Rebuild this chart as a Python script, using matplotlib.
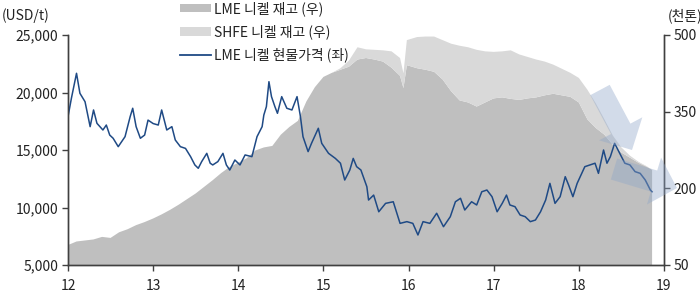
import matplotlib.pyplot as plt
from matplotlib.patches import FancyArrow, Patch
from matplotlib.lines import Line2D

plt.rcParams['font.family'] = ['Noto Sans CJK KR', 'DejaVu Sans']

# LME nickel cash price (USD/t), year axis: 12 = 2012
price_years = [12.00, 12.04, 12.10, 12.14, 12.20, 12.26, 12.30, 12.34, 12.41, 12.45,
               12.49, 12.53, 12.59, 12.67, 12.73, 12.76, 12.80, 12.85, 12.90, 12.94,
               13.00, 13.06, 13.10, 13.16, 13.22, 13.26, 13.32, 13.38, 13.44, 13.49,
               13.53, 13.57, 13.63, 13.67, 13.70, 13.76, 13.82, 13.86, 13.90, 13.96,
               14.02, 14.08, 14.16, 14.22, 14.28, 14.30, 14.33, 14.36, 14.39, 14.43,
               14.46, 14.51, 14.57, 14.63, 14.69, 14.73, 14.76, 14.82, 14.86, 14.94,
               14.98, 15.06, 15.14, 15.20, 15.25, 15.31, 15.35, 15.39, 15.44, 15.51,
               15.53, 15.59, 15.65, 15.73, 15.82, 15.90, 15.98, 16.05, 16.11, 16.17,
               16.25, 16.33, 16.41, 16.49, 16.55, 16.61, 16.66, 16.74, 16.80, 16.86,
               16.92, 16.98, 17.04, 17.10, 17.15, 17.19, 17.25, 17.31, 17.37, 17.43,
               17.49, 17.55, 17.61, 17.66, 17.72, 17.78, 17.84, 17.88, 17.93, 17.98,
               18.07, 18.13, 18.19, 18.23, 18.29, 18.33, 18.37, 18.42, 18.48, 18.54,
               18.60, 18.66, 18.72, 18.78, 18.84, 18.86]
prices = [17900, 19500, 21670, 19930, 19200, 17030, 18480, 17320, 16740, 17170,
          16300, 16020, 15290, 16160, 17900, 18630, 17030, 16020, 16300, 17600,
          17300, 17170, 18480, 16740, 17030, 15870, 15290, 15140, 14420, 13700,
          13410, 13990, 14710, 13850, 13700, 13990, 14710, 13700, 13260, 14130,
          13700, 14570, 14420, 16160, 17030, 18040, 18770, 20940, 19640, 18770,
          18190, 19640, 18630, 18480, 19640, 17900, 16160, 14860, 15580, 16890,
          15580, 14710, 14270, 13850, 12390, 13260, 14270, 13550, 13260, 11810,
          10650, 11080, 9630, 10360, 10500, 8620, 8770, 8620, 7610, 8770,
          8620, 9500, 8330, 9200, 10500, 10800, 9780, 10500, 10220, 11370,
          11520, 10940, 9630, 10360, 11080, 10220, 10070, 9350, 9200, 8770,
          8910, 9630, 10650, 12100, 10360, 10940, 12680, 11950, 10940, 12100,
          13550, 13700, 13850, 12970, 15000, 13850, 14420, 15580, 14710, 13850,
          13700, 13120, 12970, 12390, 11520, 11370]

# stocks (thousand tonnes)
stock_years = [12.0, 12.1, 12.2, 12.3, 12.4, 12.5, 12.6, 12.7, 12.8, 12.9,
               13.0, 13.1, 13.2, 13.3, 13.4, 13.5, 13.6, 13.7, 13.8, 13.9,
               14.0, 14.1, 14.2, 14.3, 14.4, 14.5, 14.6, 14.7, 14.8, 14.9,
               15.0, 15.1, 15.2, 15.3, 15.4, 15.5, 15.6, 15.7, 15.8, 15.9,
               15.94, 15.98, 16.1, 16.2, 16.3, 16.4, 16.5, 16.6, 16.7, 16.8,
               16.9, 17.0, 17.1, 17.2, 17.3, 17.4, 17.5, 17.6, 17.7, 17.8,
               17.9, 18.0, 18.1, 18.2, 18.3, 18.4, 18.5, 18.6, 18.7, 18.8, 18.86]
lme_stock = [89, 96, 98, 100, 105, 103, 114, 120, 128, 134,
             141, 149, 158, 168, 179, 190, 203, 216, 230, 242,
             250, 259, 274, 280, 283, 305, 320, 332, 370, 398,
             418, 426, 432, 438, 452, 455, 452, 448, 436, 420,
             396, 441, 435, 432, 428, 413, 390, 372, 368, 360,
             368, 376, 378, 375, 373, 376, 378, 382, 385, 382,
             379, 368, 335, 318, 305, 285, 270, 260, 250, 242, 236]
shfe_stock = [0, 0, 0, 0, 0, 0, 0, 0, 0, 0,
              0, 0, 0, 0, 0, 0, 0, 0, 0, 0,
              0, 0, 0, 0, 0, 0, 0, 0, 0, 0,
              0, 0, 3, 12, 24, 17, 19, 22, 32, 35,
              29, 49, 61, 65, 69, 77, 93, 107, 108, 111,
              100, 91, 90, 95, 89, 81, 74, 66, 57, 52,
              47, 48, 58, 48, 30, 18, 10, 4, 2, 1, 0]

x_ticks = [12, 13, 14, 15, 16, 17, 18, 19]
left_ticks = [5000, 10000, 15000, 20000, 25000]
right_ticks = [50, 200, 350, 500]

lme_color = '#bfbfbf'
shfe_color = '#d9d9d9'
line_color = '#1f4a85'
axis_color = '#404040'

fig = plt.figure(figsize=(7, 2.92), dpi=100)
ax = fig.add_axes([68 / 700, 27 / 292, 596 / 700, 230 / 292])
ax2 = ax.twinx()

ax2.stackplot(stock_years, lme_stock, shfe_stock, colors=[lme_color, shfe_color], linewidth=0)
ax2.set_ylim(50, 500)
ax2.set_yticks(right_ticks)

ax.plot(price_years, prices, color=line_color, linewidth=1.1)
ax.set_ylim(5000, 25000)
ax.set_yticks(left_ticks)
ax.set_yticklabels([f'{v:,}' for v in left_ticks])
ax.set_xlim(12, 19)
ax.set_xticks(x_ticks)

ax.set_zorder(ax2.get_zorder() + 1)
ax.patch.set_visible(False)

for a in (ax, ax2):
    a.spines['top'].set_visible(False)
    for s in ('left', 'right', 'bottom'):
        a.spines[s].set_color(axis_color)
        a.spines[s].set_linewidth(1.0)
    a.tick_params(direction='out', length=4, width=1, color=axis_color,
                  labelsize=10, labelcolor='#222222', pad=3)
ax.tick_params(axis='x', pad=6)

fig.text(2 / 700, 1 - 16 / 292, '(USD/t)', fontsize=10, color='#222222', va='center', ha='left')
fig.text(668 / 700, 1 - 16 / 292, '(천톤)', fontsize=10, color='#222222', va='center', ha='left')

handles = [Patch(facecolor=lme_color, edgecolor='none'),
           Patch(facecolor=shfe_color, edgecolor='none'),
           Line2D([0], [0], color=line_color, linewidth=1.3)]
labels = ['LME 니켈 재고 (우)', 'SHFE 니켈 재고 (우)', 'LME 니켈 현물가격 (좌)']
leg = ax.legend(handles, labels, loc='upper left', bbox_to_anchor=(180 / 700, 1 - 1 / 292),
                bbox_transform=fig.transFigure, frameon=False, fontsize=10,
                handlelength=2.2, handleheight=0.55, handletextpad=0.25,
                labelspacing=0.62, borderpad=0, borderaxespad=0)
for t in leg.get_texts():
    t.set_color('#222222')

# trend arrows, given in pixels from the top-left corner
arrows = [((600, 90), (632, 150)), ((614, 169), (677, 188))]
for (x0, y0), (x1, y1) in arrows:
    a = FancyArrow(x0 / 100, (292 - y0) / 100, (x1 - x0) / 100, (y0 - y1) / 100,
                   width=0.22, head_width=0.49, head_length=0.24,
                   length_includes_head=True, transform=fig.dpi_scale_trans,
                   facecolor='#8fa6c9', edgecolor='none', alpha=0.4, zorder=5)
    fig.patches.append(a)

fig.savefig('out.png', dpi=100)
